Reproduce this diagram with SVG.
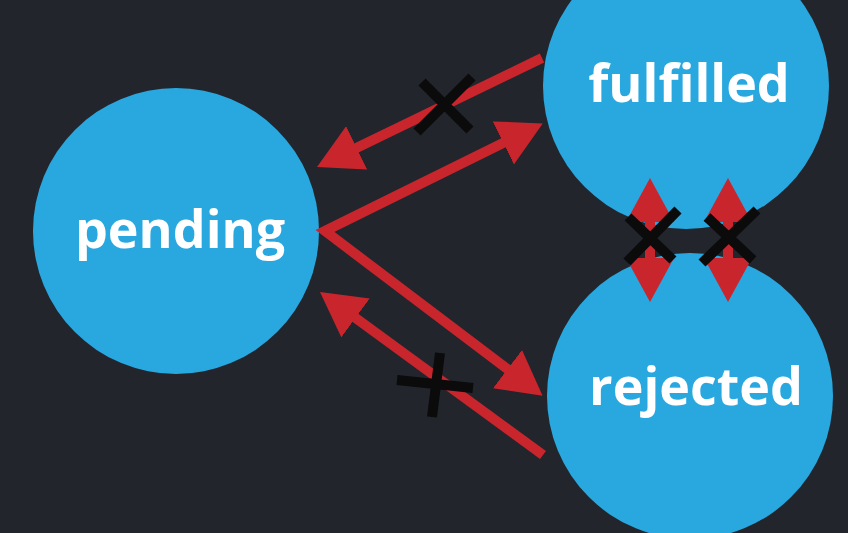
<svg xmlns="http://www.w3.org/2000/svg" width="848" height="533" viewBox="0 0 848 533">
  <style>
    .node { fill: #29a8e0; }
    .label { font-family: "Open Sans", "Liberation Sans", sans-serif; font-weight: 700; font-size: 52px; fill: #ffffff; text-anchor: middle; }
    .arrow { fill: none; stroke: #c8262c; stroke-width: 10; stroke-linejoin: miter; }
    .cross { fill: none; stroke: #0b0b0c; stroke-width: 10; }
  </style>
  <defs>
    <marker id="head" viewBox="0 0 44 48" markerUnits="userSpaceOnUse" markerWidth="44" markerHeight="48" refX="2" refY="24" orient="auto-start-reverse">
      <path d="M0,0 L44,24 L0,48 z" fill="#c8262c"/>
    </marker>
  </defs>
  <rect width="848" height="533" fill="#23252d"/>

  <g id="pending">
    <circle class="node" cx="176" cy="231" r="143"/>
    <text class="label" x="180" y="248">pending</text>
  </g>
  <g id="fulfilled">
    <circle class="node" cx="686" cy="86" r="143"/>
    <text class="label" x="689" y="102">fulfilled</text>
  </g>
  <g id="rejected">
    <circle class="node" cx="690" cy="396" r="143"/>
    <text class="label" x="696" y="405">rejected</text>
  </g>

  <g id="connectors">
    <path class="arrow" d="M542,58 L354.8,148.7" marker-end="url(#head)"/>
    <path class="arrow" d="M505.1,142 L325,231 L509.1,370.3" marker-start="url(#head)" marker-end="url(#head)"/>
    <path class="arrow" d="M543,455 L353.9,316.8" marker-end="url(#head)"/>
    <path class="arrow" d="M650,220 L650,260" marker-start="url(#head)" marker-end="url(#head)"/>
    <path class="arrow" d="M728,220 L728,260" marker-start="url(#head)" marker-end="url(#head)"/>
  </g>

  <g id="crosses">
    <path class="cross" d="M422,82 L470,130 M472,77 L417,132"/>
    <path class="cross" d="M440,353 L432,417 M397,380 L473,388"/>
    <path class="cross" d="M627,262 L678,210 M628,217 L673,260"/>
    <path class="cross" d="M702,263 L757,210 M707,217 L753,260"/>
  </g>
</svg>
